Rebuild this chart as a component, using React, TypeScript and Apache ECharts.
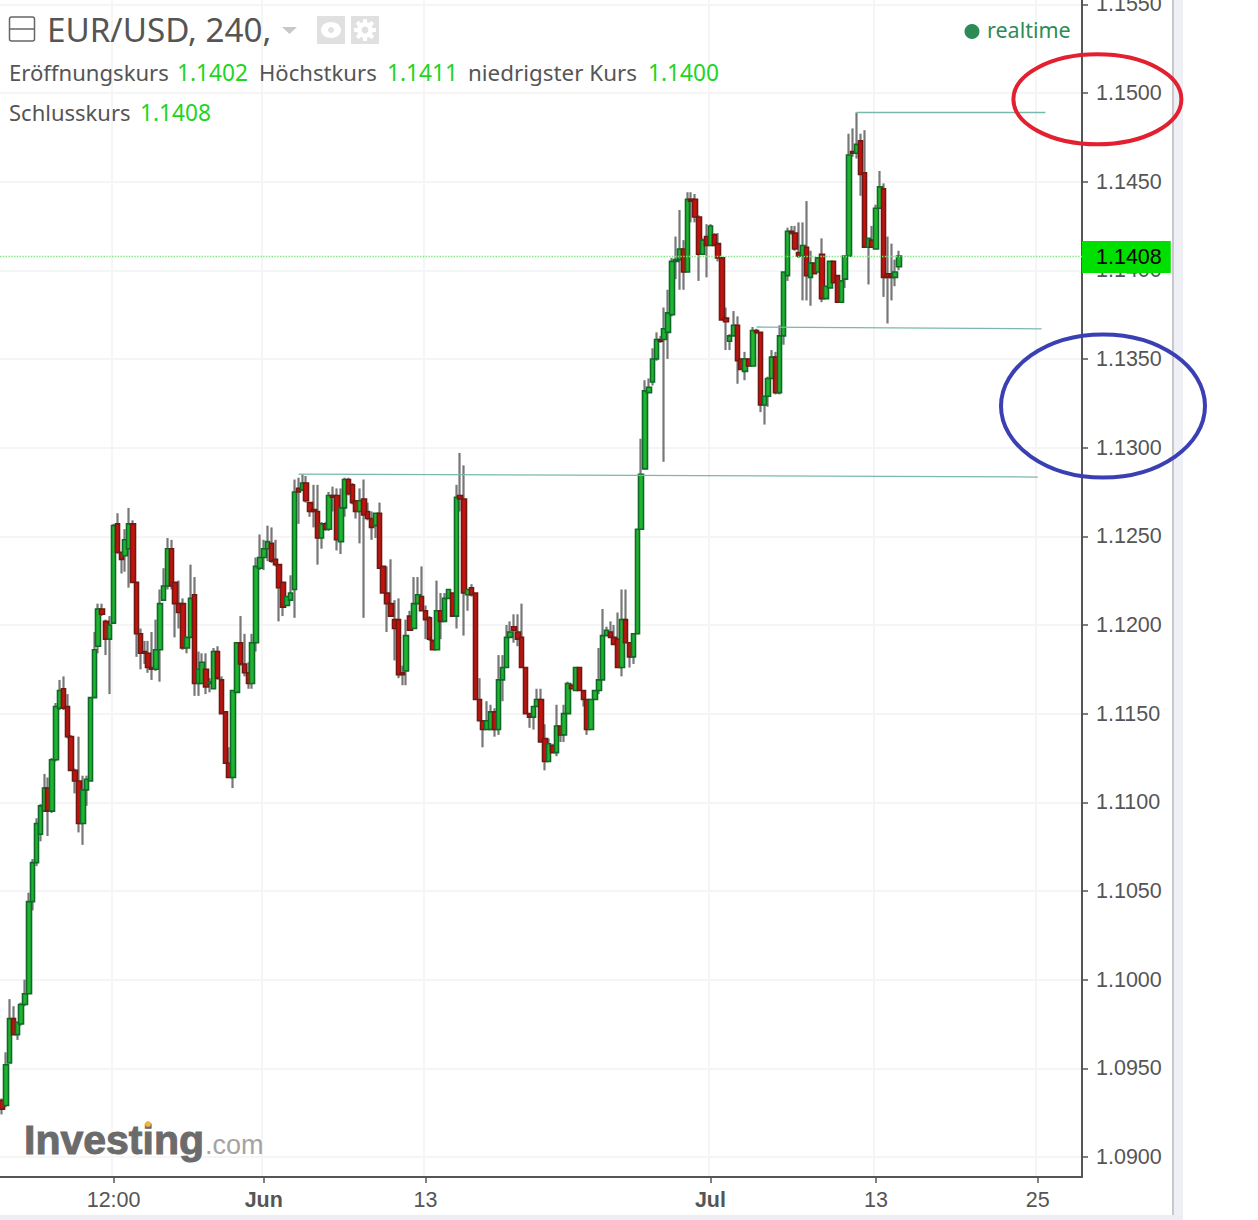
import React, { useEffect, useRef } from "react";
import * as echarts from "echarts";

// rows: [open, close, low, high]
const legRiseA: number[][] = [
  [1.0932,1.0927,1.0924,1.0933],[1.0929,1.0952,1.0928,1.0959],[1.0953,1.0978,1.0953,1.0989],[1.0978,1.0969,1.0969,1.0985],
  [1.0969,1.0976,1.0966,1.0976],[1.0975,1.0986,1.0974,1.0987],[1.0986,1.0992,1.0985,1.1000],[1.0992,1.1044,1.0992,1.1049],
  [1.1044,1.1066,1.1039,1.1068],[1.1066,1.1088,1.1064,1.1091],[1.1082,1.1098,1.1078,1.1099],
  [1.1095,1.1108,1.1095,1.1116],[1.1108,1.1095,1.1081,1.1114],[1.1095,1.1124,1.1094,1.1125],[1.1124,1.1154,1.1123,1.1156],
  [1.1153,1.1163,1.1152,1.1169],[1.1164,1.1153,1.1152,1.1171],[1.1154,1.1137,1.1136,1.1161],[1.1137,1.1118,1.1118,1.1138],
  [1.1118,1.1112,1.1105,1.1119],[1.1112,1.1088,1.1083,1.1137],[1.1088,1.1107,1.1076,1.1115],[1.1107,1.1113,1.1098,1.1115],
  [1.1112,1.1159,1.1112,1.1159],[1.1159,1.1186,1.1159,1.1196],[1.1188,1.1209,1.1184,1.1212],[1.1209,1.1206,1.1205,1.1212],
  [1.1202,1.1192,1.1183,1.1203],[1.1192,1.1200,1.1161,1.1205],[1.1201,1.1256,1.1201,1.1257],[1.1257,1.1241,1.1240,1.1263],
  [1.1241,1.1237,1.1229,1.1241],[1.1239,1.1248,1.1230,1.1254],[1.1243,1.1257,1.1221,1.1266],[1.1257,1.1224,1.1224,1.1259],
  [1.1224,1.1195,1.1182,1.1224],[1.1195,1.1184,1.1175,1.1198],[1.1185,1.1184,1.1178,1.1191],[1.1184,1.1176,1.1173,1.1191],[1.1176,1.1175,1.1169,1.1196],
  [1.1175,1.1186,1.1174,1.1203],[1.1186,1.1212,1.1168,1.1220],
];
const legSwingB: number[][] = [
  [1.1214,1.1222,1.1214,1.1232],[1.1222,1.1243,1.1220,1.1249],[1.1243,1.1222,1.1220,1.1248],[1.1224,1.1212,1.1193,1.1224],
  [1.1212,1.1207,1.1198,1.1225],[1.1212,1.1187,1.1186,1.1215],[1.1187,1.1193,1.1184,1.1193],[1.1193,1.1215,1.1193,1.1234],
  [1.1217,1.1167,1.1160,1.1227],[1.1167,1.1175,1.1160,1.1185],[1.1167,1.1179,1.1167,1.1184],[1.1175,1.1165,1.1161,1.1184],
  [1.1167,1.1168,1.1162,1.1170],[1.1164,1.1185,1.1164,1.1187],[1.1185,1.1170,1.1169,1.1188],[1.1169,1.1150,1.1150,1.1171],
  [1.1151,1.1122,1.1122,1.1151],[1.1122,1.1114,1.1114,1.1131],[1.1114,1.1163,1.1108,1.1163],[1.1162,1.1190,1.1162,1.1190],
  [1.1190,1.1178,1.1177,1.1205],[1.1178,1.1173,1.1171,1.1195],[1.1173,1.1167,1.1164,1.1179],[1.1167,1.1190,1.1164,1.1195],
  [1.1190,1.1233,1.1185,1.1238],[1.1232,1.1238,1.1231,1.1251],[1.1238,1.1243,1.1231,1.1248],[1.1243,1.1247,1.1236,1.1256],
  [1.1246,1.1236,1.1235,1.1255],[1.1237,1.1234,1.1233,1.1248],[1.1234,1.1221,1.1202,1.1234],[1.1224,1.1210,1.1205,1.1224],
  [1.1211,1.1216,1.1211,1.1216],[1.1214,1.1218,1.1214,1.1228],[1.1220,1.1275,1.1204,1.1282],
];
const legJuneC: number[][] = [
  [1.1277,1.1275,1.1257,1.1283],[1.1276,1.1280,1.1276,1.1285],[1.1280,1.1270,1.1269,1.1284],[1.1269,1.1264,1.1261,1.1269],
  [1.1265,1.1264,1.1255,1.1279],[1.1264,1.1249,1.1234,1.1279],[1.1249,1.1257,1.1243,1.1258],[1.1257,1.1254,1.1253,1.1258],
  [1.1254,1.1273,1.1253,1.1275],[1.1273,1.1272,1.1264,1.1278],[1.1273,1.1248,1.1242,1.1277],[1.1247,1.1266,1.1240,1.1277],
  [1.1266,1.1282,1.1261,1.1283],[1.1282,1.1274,1.1273,1.1283],[1.1279,1.1269,1.1268,1.1280],[1.1270,1.1264,1.1260,1.1270],
  [1.1264,1.1270,1.1246,1.1277],[1.1271,1.1262,1.1204,1.1282],[1.1264,1.1260,1.1259,1.1269],[1.1260,1.1255,1.1248,1.1264],
  [1.1256,1.1263,1.1249,1.1263],[1.1263,1.1232,1.1232,1.1269],[1.1233,1.1218,1.1218,1.1233],[1.1218,1.1212,1.1196,1.1233],
  [1.1212,1.1205,1.1205,1.1237],[1.1203,1.1198,1.1180,1.1214],[1.1203,1.1172,1.1170,1.1215],[1.1173,1.1172,1.1166,1.1177],
  [1.1174,1.1194,1.1166,1.1203],[1.1205,1.1197,1.1197,1.1208],[1.1198,1.1212,1.1198,1.1227],[1.1212,1.1217,1.1212,1.1227],
  [1.1216,1.1208,1.1208,1.1233],[1.1208,1.1203,1.1192,1.1211],[1.1204,1.1192,1.1191,1.1205],[1.1191,1.1186,1.1186,1.1192],
  [1.1186,1.1208,1.1186,1.1225],[1.1208,1.1202,1.1192,1.1218],[1.1202,1.1215,1.1202,1.1218],[1.1215,1.1220,1.1215,1.1220],
  [1.1218,1.1205,1.1205,1.1218],[1.1205,1.1272,1.1198,1.1279],[1.1273,1.1271,1.1264,1.1297],[1.1271,1.1218,1.1194,1.1290],
  [1.1217,1.1220,1.1208,1.1220],[1.1221,1.1217,1.1216,1.1223],
];
const legDipD: number[][] = [
  [1.1218,1.1158,1.1158,1.1218],[1.1158,1.1146,1.1146,1.1170],[1.1146,1.1141,1.1131,1.1146],[1.1141,1.1146,1.1141,1.1157],
  [1.1141,1.1151,1.1141,1.1155],[1.1151,1.1141,1.1137,1.1153],[1.1141,1.1169,1.1138,1.1183],[1.1169,1.1176,1.1157,1.1183],
  [1.1176,1.1193,1.1176,1.1200],[1.1193,1.1196,1.1193,1.1202],[1.1199,1.1197,1.1190,1.1206],[1.1196,1.1192,1.1188,1.1206],
  [1.1193,1.1176,1.1176,1.1212],[1.1176,1.1150,1.1150,1.1176],[1.1150,1.1148,1.1142,1.1150],[1.1148,1.1154,1.1141,1.1154],
  [1.1154,1.1158,1.1154,1.1164],[1.1158,1.1134,1.1134,1.1164],[1.1136,1.1123,1.1118,1.1144],[1.1123,1.1133,1.1123,1.1136],
  [1.1132,1.1128,1.1128,1.1133],[1.1128,1.1143,1.1126,1.1155],[1.1143,1.1138,1.1134,1.1143],[1.1138,1.1150,1.1134,1.1155],
  [1.1150,1.1167,1.1150,1.1168],[1.1166,1.1164,1.1164,1.1167],[1.1163,1.1176,1.1163,1.1176],[1.1176,1.1163,1.1163,1.1176],
  [1.1163,1.1158,1.1154,1.1163],[1.1158,1.1141,1.1138,1.1158],[1.1141,1.1158,1.1141,1.1158],[1.1158,1.1163,1.1158,1.1163],
  [1.1163,1.1169,1.1161,1.1187],[1.1169,1.1194,1.1169,1.1209],[1.1194,1.1197,1.1194,1.1199],[1.1196,1.1193,1.1193,1.1202],
  [1.1193,1.1189,1.1189,1.1200],[1.1192,1.1176,1.1176,1.1207],[1.1176,1.1203,1.1171,1.1220],[1.1203,1.1190,1.1190,1.1220],
  [1.1190,1.1182,1.1176,1.1190],[1.1182,1.1195,1.1178,1.1195],[1.1195,1.1254,1.1195,1.1254],
];
const legBreakoutE: number[][] = [
  [1.1254,1.1285,1.1254,1.1305],[1.1288,1.1332,1.1288,1.1338],[1.1331,1.1334,1.1331,1.1339],[1.1337,1.1350,1.1335,1.1356],
  [1.1350,1.1361,1.1349,1.1365],[1.1361,1.1360,1.1359,1.1363],[1.1361,1.1367,1.1292,1.1379],[1.1365,1.1376,1.1350,1.1389],
  [1.1375,1.1405,1.1374,1.1407],[1.1405,1.1406,1.1395,1.1419],[1.1406,1.1412,1.1389,1.1434],
  [1.1412,1.1399,1.1389,1.1417],[1.1399,1.1440,1.1399,1.1444],[1.1440,1.1439,1.1427,1.1444],[1.1440,1.1430,1.1427,1.1443],
  [1.1430,1.1409,1.1394,1.1431],[1.1409,1.1417,1.1409,1.1418],[1.1419,1.1414,1.1396,1.1426],[1.1414,1.1425,1.1414,1.1426],
  [1.1420,1.1414,1.1414,1.1421],[1.1415,1.1407,1.1405,1.1421],[1.1407,1.1372,1.1372,1.1407],[1.1373,1.1371,1.1355,1.1379],
  [1.1360,1.1363,1.1355,1.1364],[1.1363,1.1369,1.1363,1.1377],[1.1369,1.1349,1.1336,1.1374],[1.1350,1.1344,1.1344,1.1350],
  [1.1343,1.1350,1.1338,1.1354],[1.1350,1.1346,1.1346,1.1350],[1.1346,1.1366,1.1346,1.1368],[1.1366,1.1365,1.1364,1.1367],[1.1365,1.1324,1.1320,1.1365],
  [1.1324,1.1329,1.1313,1.1329],[1.1329,1.1339,1.1323,1.1340],
];
const legJulyF: number[][] = [
  [1.1339,1.1351,1.1339,1.1355],[1.1351,1.1331,1.1330,1.1354],[1.1331,1.1363,1.1330,1.1369],
  [1.1363,1.1399,1.1358,1.1399],[1.1397,1.1422,1.1394,1.1424],[1.1422,1.1421,1.1420,1.1425],[1.1421,1.1412,1.1411,1.1425],[1.1410,1.1408,1.1407,1.1427],
  [1.1408,1.1414,1.1383,1.1427],[1.1413,1.1397,1.1383,1.1439],[1.1396,1.1404,1.1380,1.1411],[1.1404,1.1398,1.1398,1.1404],
  [1.1399,1.1407,1.1399,1.1407],[1.1409,1.1384,1.1382,1.1418],[1.1384,1.1391,1.1384,1.1391],[1.1390,1.1405,1.1390,1.1405],
  [1.1405,1.1393,1.1393,1.1405],[1.1397,1.1382,1.1382,1.1397],[1.1382,1.1394,1.1382,1.1394],[1.1395,1.1408,1.1390,1.1408],
  [1.1408,1.1465,1.1408,1.1477],[1.1467,1.1466,1.1464,1.1480],[1.1466,1.1471,1.1463,1.1489],[1.1473,1.1454,1.1442,1.1477],
  [1.1455,1.1413,1.1413,1.1479],[1.1413,1.1418,1.1392,1.1418],[1.1417,1.1413,1.1413,1.1425],[1.1412,1.1435,1.1412,1.1437],
  [1.1435,1.1447,1.1435,1.1456],[1.1446,1.1396,1.1385,1.1449],[1.1398,1.1396,1.1370,1.1419],[1.1398,1.1396,1.1383,1.1415],
  [1.1396,1.1399,1.1391,1.1406],[1.1402,1.1408,1.1400,1.1411],
];
const bars = [...legRiseA, ...legSwingB, ...legJuneC, ...legDipD, ...legBreakoutE, ...legJulyF];

const slotCount = 281;
const xTickSlots = [29, 68, 110, 184, 227, 269];
const xTickLabels = ["12:00", "Jun", "13", "Jul", "13", "25"];
const boldTicks = ["Jun", "Jul"];
const yTicks = [1.09, 1.095, 1.1, 1.105, 1.11, 1.115, 1.12, 1.125, 1.13, 1.135, 1.14, 1.145, 1.15, 1.155];
const lastPrice = 1.1408;
// each trend line: [start slot, start price, end slot, end price]
const trendLines = [
  [222, 1.14893, 270.5, 1.14893],
  [196, 1.1368, 269.5, 1.1367],
  [77, 1.12851, 268.5, 1.12834],
];
const titleText = "EUR/USD, 240,";
const statLabels = ["Eröffnungskurs", "Höchstkurs", "niedrigster Kurs", "Schlusskurs"];
const statValues = ["1.1402", "1.1411", "1.1400", "1.1408"];

const UI_FONT = '"Noto Sans"';
const AXIS_FONT = '"Liberation Sans"';

function text(t: string, x: number, y: number, size: number, fill: string, family = UI_FONT, weight = "normal", extra: any = {}) {
  return {
    type: "text", x, y, z: 50, silent: true,
    style: { text: t, fill, fontSize: size, fontFamily: family, fontWeight: weight, verticalAlign: "middle", align: "left", ...extra },
  };
}

export default function App() {
  const ref = useRef<HTMLDivElement>(null);
  useEffect(() => {
    const chart = echarts.init(ref.current!, undefined, { renderer: "svg" });
    const categories = Array.from({ length: slotCount }, (_, i) => String(i));
    const showSlot = (i: number) => xTickSlots.includes(i);
    chart.setOption({
      animation: false,
      backgroundColor: "#ffffff",
      grid: { left: 0, right: 176, top: 0, bottom: 43, containLabel: false, outerBoundsMode: "none" },
      xAxis: {
        type: "category",
        data: categories,
        boundaryGap: true,
        axisLine: { lineStyle: { color: "#555555", width: 2 } },
        axisTick: { show: true, alignWithLabel: true, interval: (i: number) => showSlot(i), length: 6, lineStyle: { color: "#555555", width: 1.5 } },
        splitLine: { show: true, interval: (i: number) => showSlot(i), lineStyle: { color: "#f5f5f6", width: 2 } },
        axisLabel: {
          interval: (i: number) => showSlot(i),
          margin: 12,
          color: "#555555",
          fontSize: 21.5,
          fontFamily: AXIS_FONT,
          hideOverlap: false,
          formatter: (v: string) => {
            const k = xTickSlots.indexOf(Number(v));
            if (k < 0) return "";
            const t = xTickLabels[k];
            return boldTicks.includes(t) ? `{b|${t}}` : t;
          },
          rich: { b: { fontWeight: "bold", fontSize: 21.5, color: "#555555", fontFamily: AXIS_FONT } },
        },
      },
      yAxis: {
        type: "value",
        position: "right",
        min: 1.08887,
        max: 1.15524,
        scale: true,
        axisLine: { show: true, lineStyle: { color: "#555555", width: 2 } },
        axisTick: { show: true, customValues: yTicks, length: 6, lineStyle: { color: "#555555", width: 1.5 } },
        splitLine: { show: true, lineStyle: { color: "#f5f5f6", width: 2 } },
        axisLabel: {
          customValues: yTicks,
          margin: 14,
          padding: [3, 0, 0, 0],
          color: "#555555",
          fontSize: 21.5,
          fontFamily: AXIS_FONT,
          hideOverlap: false,
          showMinLabel: true,
          showMaxLabel: true,
          formatter: (v: number) => Number(v).toFixed(4),
        },
      },
      series: [
        {
          type: "candlestick",
          name: "wicks",
          barWidth: 1,
          silent: true,
          z: 3,
          data: bars.map(([o, c, l, h]) => [o, c, l, h]),
          itemStyle: { color: "#777777", color0: "#777777", borderColor: "#777777", borderColor0: "#777777", borderWidth: 2.2 },
          markLine: {
            silent: true,
            symbol: "none",
            animation: false,
            precision: 5,
            z: 8,
            lineStyle: { color: "#7fe67f", type: "dotted", width: 1.4, opacity: 1 },
            data: [
              {
                yAxis: lastPrice,
                label: {
                  show: true,
                  position: "end",
                  distance: 0,
                  formatter: lastPrice.toFixed(4),
                  color: "#000000",
                  fontSize: 21.5,
                  fontFamily: AXIS_FONT,
                  backgroundColor: "#00e000",
                  padding: [5, 9, 5, 14],
                  offset: [0, 1],
                },
              },
            ],
          },
        },
        {
          type: "candlestick",
          name: "EUR/USD",
          barWidth: 5,
          silent: true,
          z: 4,
          data: bars.map(([o, c]) => [o, c, Math.min(o, c), Math.max(o, c)]),
          itemStyle: { color: "#1fb52e", color0: "#c4130e", borderColor: "#0f6a2a", borderColor0: "#6e1a12", borderWidth: 1.6 },
          markLine: {
            silent: true,
            symbol: "none",
            animation: false,
            precision: 5,
            z: 8,
            lineStyle: { color: "#79b8ac", type: "solid", width: 1.3 },
            label: { show: false },
            data: trendLines.map(([x0, y0, x1, y1]) => [{ coord: [x0, y0] }, { coord: [x1, y1] }]),
          },
        },
      ],
      graphic: [
        // page furniture
        { type: "rect", z: 40, silent: true, shape: { x: 1172, y: 0, width: 2, height: 1220 }, style: { fill: "#c8c8cc" } },
        { type: "rect", z: 40, silent: true, shape: { x: 1174, y: 0, width: 9, height: 1220 }, style: { fill: "#eff0f6" } },
        { type: "rect", z: 40, silent: true, shape: { x: 0, y: 1215, width: 1183, height: 5 }, style: { fill: "#eceef3" } },
        // annotation ellipses
        { type: "ellipse", z: 60, silent: true, shape: { cx: 1097.4, cy: 99.3, rx: 84, ry: 45 }, style: { fill: "transparent", stroke: "#e2202f", lineWidth: 4 } },
        { type: "ellipse", z: 60, silent: true, shape: { cx: 1103, cy: 406, rx: 102, ry: 71.5 }, style: { fill: "transparent", stroke: "#3b3fb4", lineWidth: 4 } },
        // header
        { type: "rect", z: 50, silent: true, shape: { x: 9.5, y: 17, width: 25, height: 24, r: 2 }, style: { fill: "transparent", stroke: "#666666", lineWidth: 1.5 } },
        { type: "line", z: 50, silent: true, shape: { x1: 10, y1: 29, x2: 34, y2: 29 }, style: { stroke: "#666666", lineWidth: 1.5 } },
        text(titleText, 47, 29.5, 33.2, "#555555"),
        { type: "polygon", z: 50, silent: true, shape: { points: [[282, 27], [297, 27], [289.5, 34]] }, style: { fill: "#c8c8c8" } },
        { type: "rect", z: 50, silent: true, shape: { x: 317, y: 16, width: 28, height: 28 }, style: { fill: "#e0e0e0" } },
        { type: "rect", z: 50, silent: true, shape: { x: 351, y: 16, width: 28, height: 28 }, style: { fill: "#e0e0e0" } },
        { type: "ellipse", z: 51, silent: true, shape: { cx: 331, cy: 30, rx: 10, ry: 8 }, style: { fill: "#ffffff" } },
        { type: "circle", z: 52, silent: true, shape: { cx: 331, cy: 30, r: 3 }, style: { fill: "#e0e0e0" } },
        { type: "circle", z: 51, silent: true, shape: { cx: 365, cy: 30, r: 8 }, style: { fill: "#ffffff" } },
        { type: "rect", z: 51, silent: true, shape: { x: 363, y: 19, width: 4, height: 22 }, style: { fill: "#ffffff" } },
        { type: "rect", z: 51, silent: true, shape: { x: 354, y: 28, width: 22, height: 4 }, style: { fill: "#ffffff" } },
        { type: "rect", z: 51, silent: true, x: 365, y: 30, rotation: Math.PI / 4, shape: { x: -2, y: -11, width: 4, height: 22 }, style: { fill: "#ffffff" } },
        { type: "rect", z: 51, silent: true, x: 365, y: 30, rotation: Math.PI / 4, shape: { x: -11, y: -2, width: 22, height: 4 }, style: { fill: "#ffffff" } },
        { type: "circle", z: 52, silent: true, shape: { cx: 365, cy: 30, r: 3.5 }, style: { fill: "#e0e0e0" } },
        text(statLabels[0], 9, 72, 22.1, "#555555"),
        text(statValues[0], 177, 72, 22.7, "#1ed51e"),
        text(statLabels[1], 259, 72, 22.1, "#555555"),
        text(statValues[1], 387, 72, 22.7, "#1ed51e"),
        text(statLabels[2], 468, 72, 22.4, "#555555"),
        text(statValues[2], 648, 72, 22.7, "#1ed51e"),
        text(statLabels[3], 9, 112, 22, "#555555"),
        text(statValues[3], 140, 112, 22.7, "#1ed51e"),
        { type: "circle", z: 50, silent: true, shape: { cx: 972, cy: 31.5, r: 7.5 }, style: { fill: "#2e8b57" } },
        text("realtime", 987, 29.5, 21.5, "#2e8b57"),
        // logo
        text("Investing", 24, 1140, 41, "#6b6b6b", AXIS_FONT, "bold", { stroke: "#6b6b6b", lineWidth: 1 }),
        text(".com", 205, 1145, 27, "#a3a3a3", AXIS_FONT),
        { type: "circle", z: 51, silent: true, shape: { cx: 148, cy: 1124, r: 3 }, style: { fill: "#f4b24a" } },
      ],
    });
    return () => chart.dispose();
  }, []);
  return <div ref={ref} style={{ position: "absolute", left: 0, top: 0, width: 1258, height: 1220 }} />;
}
